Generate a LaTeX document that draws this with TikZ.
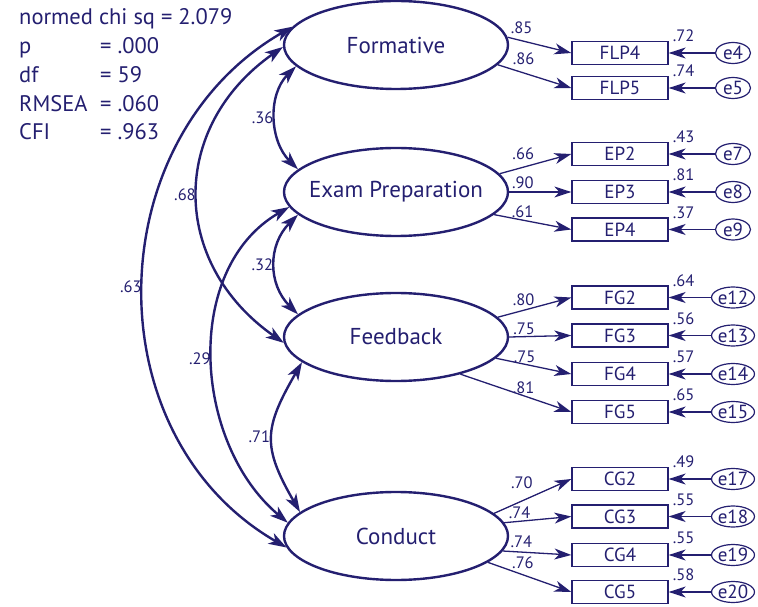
\documentclass[tikz,border=0pt]{standalone}
\usepackage{fontspec}
\setmainfont{PT Sans}
\usetikzlibrary{shapes.geometric,arrows.meta}
\definecolor{semblue}{RGB}{36,31,112}

\begin{document}
\begin{tikzpicture}[x=1pt, y=1pt, semblue,
    stat/.style={anchor=base west, inner sep=0pt, font=\fontsize{22.5}{26}\selectfont},
    latent/.style={ellipse, draw, line width=2.4pt, minimum width=224pt, minimum height=88pt, inner sep=0pt, font=\fontsize{23}{26}\selectfont},
    obs/.style={rectangle, draw, line width=1.3pt, minimum width=96pt, minimum height=23pt, inner sep=0pt, font=\fontsize{19}{21}\selectfont},
    err/.style={ellipse, draw, line width=1.2pt, minimum width=35pt, minimum height=21pt, inner sep=0pt, font=\fontsize{19}{21}\selectfont},
    coef/.style={inner sep=1pt, font=\fontsize{16.5}{18}\selectfont},
    load/.style={line width=1.3pt, -{Stealth[length=17pt, width=11pt, inset=5pt]}},
    cov/.style={line width=2.4pt, {Stealth[length=18pt, width=12pt, inset=5pt]}-{Stealth[length=18pt, width=12pt, inset=5pt]}}]
    \useasboundingbox (0,0) rectangle (758,606);

    % fit
    \node[stat] (chisq) at (19,581) {normed chi sq = 2.079};
    \node[stat] (pval) at (19,552) {\makebox[81pt][l]{p}= .000};
    \node[stat] (df) at (19,523) {\makebox[81pt][l]{df}= 59};
    \node[stat] (rmsea) at (19,494) {\makebox[81pt][l]{RMSEA}= .060};
    \node[stat] (cfi) at (19,466) {\makebox[81pt][l]{CFI}= .963};

    % latent variables
    \node[latent] (form) at (396,561) {\makebox[0pt]{Formative}};
    \node[latent] (exam) at (396,414) {\makebox[0pt]{Exam Preparation}};
    \node[latent] (feed) at (396,269) {\makebox[0pt]{Feedback}};
    \node[latent] (cond) at (396,70) {\makebox[0pt]{Conduct}};

    % indicators
    \node[obs] (flp4) at (620,553) {FLP4};
    \node[obs] (flp5) at (620,518) {FLP5};
    \node[obs] (ep2) at (620,452) {EP2};
    \node[obs] (ep3) at (620,414) {EP3};
    \node[obs] (ep4) at (620,376.5) {EP4};
    \node[obs] (fg2) at (620,308.5) {FG2};
    \node[obs] (fg3) at (620,270.5) {FG3};
    \node[obs] (fg4) at (620,232) {FG4};
    \node[obs] (fg5) at (620,194) {FG5};
    \node[obs] (cg2) at (620,127) {CG2};
    \node[obs] (cg3) at (620,89.5) {CG3};
    \node[obs] (cg4) at (620,51) {CG4};
    \node[obs] (cg5) at (620,14) {CG5};

    % errors
    \node[err] (e4) at (733,553) {e4};
    \node[err] (e5) at (733,518) {e5};
    \node[err] (e7) at (733,452) {e7};
    \node[err] (e8) at (733,414) {e8};
    \node[err] (e9) at (733,376.5) {e9};
    \node[err] (e12) at (733,308.5) {e12};
    \node[err] (e13) at (733,270.5) {e13};
    \node[err] (e14) at (733,232) {e14};
    \node[err] (e15) at (733,194) {e15};
    \node[err] (e17) at (733,127) {e17};
    \node[err] (e18) at (733,89.5) {e18};
    \node[err] (e19) at (733,51) {e19};
    \node[err] (e20) at (733,14) {e20};

    % loadings
    \draw[load] (form.4) -- (flp4.west) node[coef, pos=.22, above=5pt] {.85};
    \draw[load] (form.-11) -- (flp5.west) node[coef, pos=.35, above=7pt] {.86};
    \draw[load] (exam.10) -- (ep2.west) node[coef, pos=.33, above=6pt] {.66};
    \draw[load] (exam.0) -- (ep3.west) node[coef, pos=.22, above=1.5pt] {.90};
    \draw[load] (exam.-13) -- (ep4.west) node[coef, pos=.37, above=.5pt] {.61};
    \draw[load] (feed.11) -- (fg2.west) node[coef, pos=.35, above=2.5pt] {.80};
    \draw[load] (feed.0) -- (fg3.west) node[coef, pos=.24, above=0pt] {.75};
    \draw[load] (feed.-12) -- (fg4.west) node[coef, pos=.38, above=0pt] {.75};
    \draw[load] (feed.-30) -- (fg5.west) node[coef, pos=.57, above=0pt] {.81};
    \draw[load] (cond.13) -- (cg2.west) node[coef, pos=.36, above=11pt] {.70};
    \draw[load] (cond.7) -- (cg3.west) node[coef, pos=.23, above=1pt] {.74};
    \draw[load] (cond.-8) -- (cg4.west) node[coef, pos=.27, above=2.5pt] {.74};
    \draw[load] (cond.-16) -- (cg5.west) node[coef, pos=.42, above=4pt] {.76};

    % error paths
    \draw[load] (e4) -- (flp4);
    \draw[load] (e5) -- (flp5);
    \draw[load] (e7) -- (ep2);
    \draw[load] (e8) -- (ep3);
    \draw[load] (e9) -- (ep4);
    \draw[load] (e12) -- (fg2);
    \draw[load] (e13) -- (fg3);
    \draw[load] (e14) -- (fg4);
    \draw[load] (e15) -- (fg5);
    \draw[load] (e17) -- (cg2);
    \draw[load] (e18) -- (cg3);
    \draw[load] (e19) -- (cg4);
    \draw[load] (e20) -- (cg5);
    \node[coef] (r4) at ([shift={(15,17)}]flp4.east) {.72};
    \node[coef] (r5) at ([shift={(15,17)}]flp5.east) {.74};
    \node[coef] (r7) at ([shift={(15,17)}]ep2.east) {.43};
    \node[coef] (r8) at ([shift={(15,17)}]ep3.east) {.81};
    \node[coef] (r9) at ([shift={(15,17)}]ep4.east) {.37};
    \node[coef] (r12) at ([shift={(15,17)}]fg2.east) {.64};
    \node[coef] (r13) at ([shift={(15,17)}]fg3.east) {.56};
    \node[coef] (r14) at ([shift={(15,17)}]fg4.east) {.57};
    \node[coef] (r15) at ([shift={(15,17)}]fg5.east) {.65};
    \node[coef] (r17) at ([shift={(15,17)}]cg2.east) {.49};
    \node[coef] (r18) at ([shift={(15,17)}]cg3.east) {.55};
    \node[coef] (r19) at ([shift={(15,17)}]cg4.east) {.55};
    \node[coef] (r20) at ([shift={(15,17)}]cg5.east) {.58};

    % covariances
    \draw[cov] (form.192) to[out=225, in=135] node[coef, left] {.36} (exam.167);
    \draw[cov] (exam.193) to[out=225, in=135, looseness=1.1] node[coef, left] {.32} (feed.167);
    \draw[cov] (feed.195) to[out=240, in=120, looseness=1.3] node[coef, left] {.71} (cond.166);
    \draw[cov] (form.181) to[out=215, in=145, looseness=1.2] node[coef, left] {.68} (feed.183);
    \draw[cov] (exam.188) to[out=210, in=140] node[coef, left] {.29} (cond.173);
    \draw[cov] (form.170) to[out=210, in=150, looseness=1.1] node[coef, left] {.63} (cond.186);
\end{tikzpicture}
\end{document}
